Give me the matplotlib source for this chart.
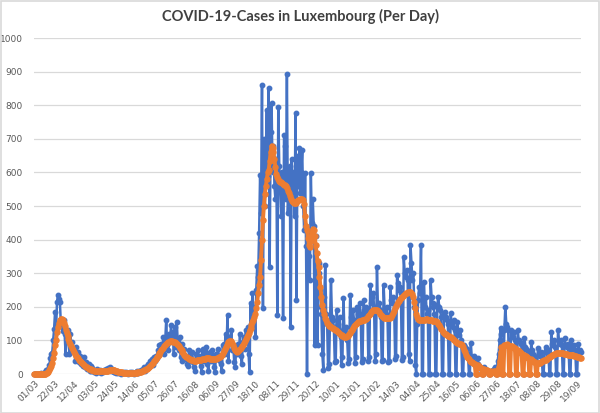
import matplotlib
matplotlib.use("Agg")
import matplotlib.pyplot as plt
import matplotlib.dates as mdates
import matplotlib.patches as mpatches
import numpy as np
import pandas as pd

# daily new cases, one row per week (Sun..Sat), starting 2020-03-01
cases = [
    0, 0, 0, 0, 0, 0, 1,
    2, 1, 0, 3, 2, 7, 12,
    10, 15, 26, 48, 59, 63, 100,
    135, 186, 128, 214, 234, 224, 215,
    152, 160, 128, 161, 118, 60, 120,
    130, 100, 60, 120, 80, 95, 70,
    75, 40, 80, 50, 65, 35, 55,
    30, 45, 25, 50, 20, 35, 15,
    20, 30, 10, 25, 8, 18, 12,
    5, 10, 3, 15, 8, 6, 12,
    4, 10, 6, 12, 8, 14, 9,
    18, 12, 20, 8, 15, 10, 6,
    5, 8, 3, 10, 4, 6, 2,
    1, 4, 2, 6, 3, 5, 2,
    0, 3, 5, 2, 6, 4, 1,
    2, 5, 3, 8, 4, 10, 6,
    12, 8, 15, 20, 10, 18, 25,
    30, 22, 40, 35, 45, 28, 50,
    40, 55, 48, 70, 60, 85, 65,
    90, 75, 110, 60, 100, 160, 85,
    70, 120, 95, 145, 110, 125, 60,
    140, 80, 155, 100, 70, 110, 50,
    40, 90, 60, 75, 45, 55, 30,
    25, 70, 55, 40, 65, 35, 20,
    10, 60, 45, 70, 50, 55, 25,
    5, 75, 40, 60, 45, 80, 30,
    8, 55, 65, 40, 70, 50, 20,
    5, 60, 45, 75, 55, 40, 30,
    10, 85, 90, 60, 120, 80, 175,
    40, 110, 95, 130, 70, 85, 35,
    20, 75, 60, 90, 65, 120, 55,
    30, 95, 110, 75, 130, 120, 140,
    60, 5, 211, 150, 240, 180, 200,
    110, 250, 320, 290, 420, 592, 480,
    860, 196, 700, 500, 640, 786, 590,
    851, 318, 720, 806, 600, 680, 560,
    520, 640, 176, 795, 620, 550, 470,
    600, 167, 711, 680, 520, 893, 480,
    560, 620, 140, 640, 530, 600, 470,
    777, 220, 650, 560, 672, 540, 600,
    667, 500, 430, 598, 380, 0, 420,
    350, 280, 598, 450, 520, 440, 86,
    410, 200, 86, 330, 300, 250, 180,
    60, 12, 230, 324, 180, 150, 18,
    30, 150, 280, 170, 160, 140, 36,
    40, 190, 150, 130, 170, 110, 27,
    50, 226, 130, 120, 140, 100, 33,
    45, 235, 170, 150, 190, 160, 33,
    50, 200, 180, 170, 210, 180, 35,
    45, 220, 190, 175, 200, 190, 40,
    50, 265, 210, 230, 240, 200, 40,
    60, 318, 200, 210, 190, 170, 38,
    42, 265, 190, 180, 200, 170, 36,
    40, 259, 220, 210, 230, 190, 45,
    55, 295, 270, 250, 260, 240, 42,
    50, 348, 300, 290, 310, 280, 60,
    40, 384, 330, 280, 300, 200, 27,
    0, 150, 220, 260, 240, 384, 0,
    0, 274, 200, 230, 180, 190, 0,
    0, 280, 230, 210, 200, 180, 0,
    0, 205, 230, 200, 190, 170, 0,
    0, 182, 185, 170, 160, 150, 0,
    0, 181, 150, 140, 161, 130, 0,
    0, 155, 120, 116, 130, 100, 0,
    0, 86, 80, 70, 75, 60, 0,
    0, 92, 48, 40, 55, 35, 0,
    0, 48, 30, 25, 20, 15, 0,
    0, 20, 15, 10, 12, 8, 0,
    0, 10, 8, 12, 15, 20, 0,
    0, 40, 60, 100, 137, 120, 0,
    0, 130, 200, 150, 140, 131, 0,
    0, 131, 120, 110, 125, 100, 0,
    0, 131, 100, 95, 90, 85, 0,
    0, 107, 80, 75, 70, 60, 0,
    0, 95, 70, 60, 55, 50, 0,
    0, 77, 60, 55, 65, 50, 0,
    0, 65, 80, 70, 75, 60, 0,
    0, 125, 90, 85, 100, 80, 0,
    0, 131, 95, 90, 100, 85, 0,
    0, 107, 85, 80, 90, 75, 0,
    0, 101, 80, 75, 85, 70, 0,
    0, 90, 65, 70, 65,
]

# 7-day average as plotted (blank days show up as 0)
avg7 = [
    0, 0, 0, 0, 0, 0, 0,
    0, 0, 0, 1, 1, 1, 2,
    4, 7, 11, 17, 25, 34, 48,
    62, 85, 102, 125, 140, 152, 160,
    165, 164, 160, 152, 142, 132, 122,
    112, 104, 96, 89, 82, 76, 70,
    64, 59, 55, 51, 47, 43, 40,
    37, 34, 31, 28, 25, 22, 20,
    18, 16, 15, 14, 13, 12, 11,
    10, 10, 9, 9, 9, 9, 9,
    9, 9, 9, 9, 9, 10, 10,
    10, 11, 12, 12, 13, 12, 12,
    11, 10, 9, 8, 7, 6, 6,
    5, 5, 4, 4, 4, 4, 3,
    3, 3, 3, 3, 3, 3, 3,
    3, 4, 4, 5, 5, 5, 6,
    7, 8, 9, 11, 12, 14, 16,
    18, 21, 24, 27, 31, 34, 38,
    42, 46, 50, 54, 58, 62, 66,
    70, 74, 78, 82, 86, 90, 92,
    94, 96, 97, 98, 97, 96, 95,
    94, 92, 89, 86, 82, 78, 74,
    70, 66, 62, 58, 55, 52, 50,
    48, 46, 44, 43, 42, 41, 40,
    40, 40, 41, 42, 42, 43, 43,
    44, 45, 45, 46, 46, 47, 47,
    47, 47, 46, 46, 45, 45, 45,
    45, 46, 47, 48, 50, 52, 55,
    58, 62, 68, 74, 80, 86, 92,
    96, 98, 99, 97, 92, 85, 78,
    72, 68, 66, 67, 70, 74, 78,
    82, 86, 92, 98, 104, 110, 116,
    122, 130, 138, 146, 155, 162, 170,
    180, 195, 215, 240, 265, 290, 340,
    400, 458, 500, 535, 560, 580, 600,
    607, 635, 660, 680, 672, 660, 640,
    615, 595, 587, 580, 575, 572, 570,
    568, 565, 563, 562, 560, 555, 545,
    538, 530, 520, 515, 512, 510, 509,
    509, 512, 516, 518, 519, 520, 520,
    520, 518, 505, 470, 440, 429, 405,
    385, 378, 395, 420, 432, 429, 410,
    385, 360, 335, 318, 290, 260, 230,
    205, 190, 178, 168, 160, 153, 148,
    144, 142, 140, 138, 136, 134, 132,
    130, 127, 124, 121, 119, 117, 115,
    114, 112, 111, 110, 110, 112, 114,
    118, 122, 127, 132, 137, 142, 147,
    150, 153, 155, 157, 158, 159, 160,
    160, 161, 162, 163, 165, 168, 172,
    176, 180, 184, 187, 189, 190, 190,
    190, 189, 187, 184, 180, 176, 173,
    170, 168, 167, 166, 166, 167, 168,
    167, 167, 170, 175, 181, 188, 195,
    202, 208, 213, 218, 222, 226, 230,
    233, 236, 238, 240, 242, 243, 244,
    244, 244, 242, 238, 230, 215, 195,
    180, 170, 165, 162, 161, 160, 160,
    160, 161, 162, 163, 163, 162, 161,
    160, 160, 160, 159, 159, 158, 158,
    157, 155, 150, 145, 140, 135, 130,
    126, 123, 120, 118, 116, 114, 112,
    111, 110, 108, 105, 102, 99, 96,
    94, 92, 91, 90, 89, 88, 86,
    80, 72, 65, 57, 52, 48, 44,
    40, 37, 35, 33, 31, 29, 0,
    0, 27, 24, 22, 20, 18, 0,
    0, 15, 13, 12, 11, 10, 0,
    0, 8, 7, 7, 8, 9, 0,
    0, 12, 20, 40, 65, 80, 0,
    0, 85, 86, 87, 88, 86, 0,
    0, 84, 82, 80, 78, 76, 0,
    0, 72, 69, 66, 63, 60, 0,
    0, 57, 55, 53, 50, 48, 0,
    0, 45, 42, 40, 37, 35, 0,
    0, 34, 33, 34, 36, 38, 40,
    41, 42, 43, 44, 46, 48, 50,
    52, 54, 56, 58, 60, 61, 62,
    62, 63, 63, 63, 62, 62, 62,
    61, 60, 60, 59, 58, 58, 57,
    57, 57, 56, 56, 55, 54, 53,
    52, 51, 50, 49, 48,
]

start_date = "2020-03-01"
tick_step_days = 21
title = "COVID-19-Cases in Luxembourg (Per Day)"

dates = pd.date_range(start_date, periods=len(cases), freq="D")

fig = plt.figure(figsize=(6.0, 4.13), dpi=100)
ax = fig.add_axes([34 / 600, 39 / 413, 547 / 600, 336 / 413])

ax.plot(dates, cases, color="#4472C4", lw=1.8, marker="o", ms=3.2,
        clip_on=False, zorder=3)
ax.plot(dates, avg7, color="#ED7D31", lw=2.8, marker="o", ms=3.6,
        clip_on=False, zorder=4)

ax.set_xlim(dates[0], dates[-1])
ax.set_ylim(0, 1000)
ax.set_yticks(np.arange(0, 1001, 100))
ax.grid(axis="y", color="#D9D9D9", lw=0.9)
ax.set_axisbelow(True)
for s in ax.spines.values():
    s.set_visible(False)

ticks = pd.date_range(start_date, dates[-1], freq=f"{tick_step_days}D")
ax.set_xticks(ticks)
ax.xaxis.set_major_formatter(mdates.DateFormatter("%d/%m"))
ax.tick_params(axis="both", length=0, labelsize=6.5, colors="#595959")
ax.tick_params(axis="x", pad=3)
ax.tick_params(axis="y", pad=8)
for lbl in ax.get_xticklabels():
    lbl.set_rotation(45)
    lbl.set_ha("right")
    lbl.set_rotation_mode("anchor")

fig.text(0.5, 1 - 16 / 413, title, ha="center", va="center",
         fontsize=10.5, fontweight="bold", color="#404040", family="Lato")

# light frame round the whole chart, as in the spreadsheet export
fig.patches.append(mpatches.Rectangle((0.001, 0.001), 0.997, 0.997,
                                      transform=fig.transFigure, fill=False,
                                      edgecolor="#D9D9D9", lw=1.2))

fig.savefig("out.png", dpi=100)
